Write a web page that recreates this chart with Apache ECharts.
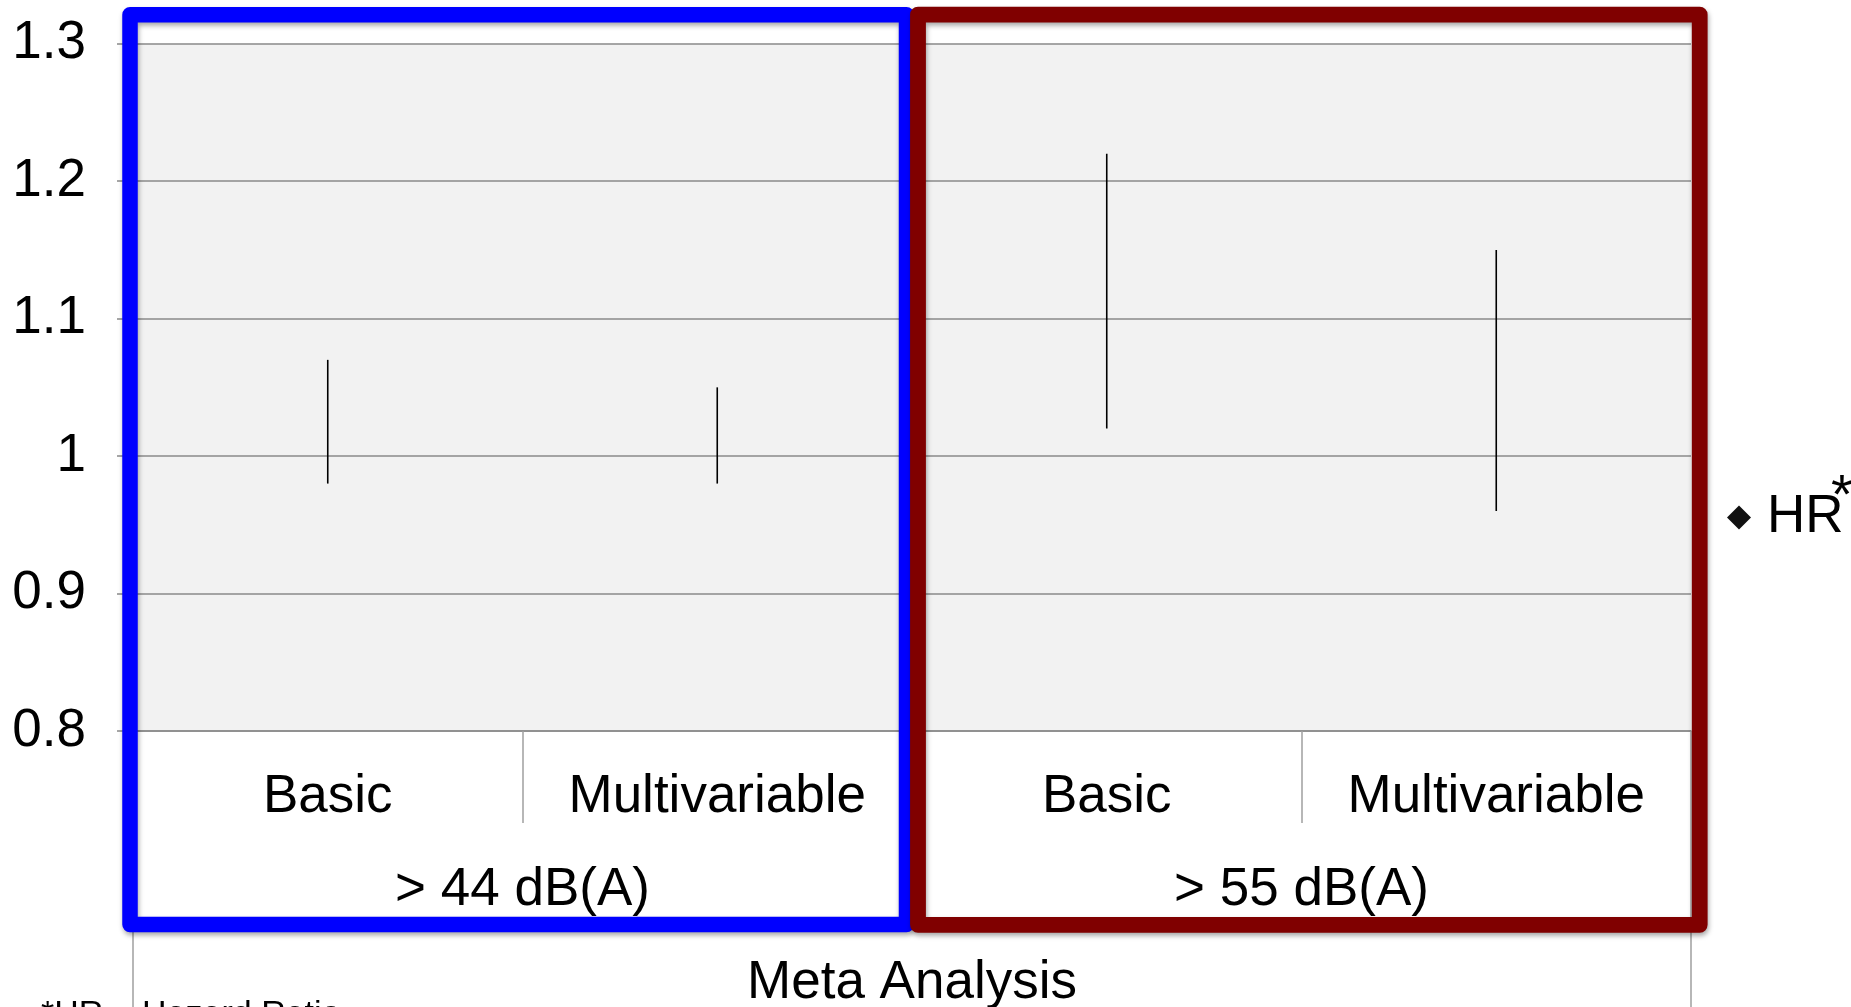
<!DOCTYPE html>
<html>
<head>
<meta charset="utf-8">
<script src="https://cdn.jsdelivr.net/npm/echarts@6/dist/echarts.min.js"></script>
<style>
html,body{margin:0;padding:0;background:#fff;}
#chart{width:1851px;height:1007px;}
</style>
</head>
<body>
<div id="chart"></div>
<script>
// ---- data ----
const categories = ['Basic', 'Multivariable', 'Basic', 'Multivariable'];
const groupLabels = ['> 44 dB(A)', '> 55 dB(A)'];
const topLabels = ['Meta Analysis'];
const ciLow = [0.98, 0.98, 1.02, 0.96];
const ciHigh = [1.07, 1.05, 1.22, 1.15];
const hrValues = []; // HR point markers are not visible in the reference
const yMin = 0.8, yMax = 1.3, yStep = 0.1;
const footnote = '*HR = Hazard Ratio';

const FONT = '"Liberation Sans", Arial, Helvetica, sans-serif';
const gridColor = '#8a8a8a';

const chart = echarts.init(document.getElementById('chart'));
const ciData = categories.map((c, i) => [i, ciLow[i], ciHigh[i]]);

const option = {
  backgroundColor: '#ffffff',
  animation: false,
  textStyle: { fontFamily: FONT },
  grid: {
    left: 133, right: 160, top: 43.7, bottom: 276,
    containLabel: false, outerBoundsMode: 'none',
    show: true, backgroundColor: '#f2f2f2', borderWidth: 0
  },
  legend: {
    data: [{ name: 'HR*', icon: 'diamond', itemStyle: { color: '#111', opacity: 1 } }],
    orient: 'vertical',
    left: 1722, top: 482.5,
    itemWidth: 24, itemHeight: 24,
    formatter: function () { return 'HR'; },
    textStyle: {
      fontSize: 53, color: '#000', fontFamily: FONT, lineHeight: 60,
      padding: [0, 0, 0, 11]
    }
  },
  xAxis: [
    {
      type: 'category', data: categories, position: 'bottom',
      axisLine: { show: true, lineStyle: { color: gridColor, width: 1.5 } },
      axisTick: { show: true, interval: 0, length: 92, lineStyle: { color: '#a0a0a0', width: 1.5 } },
      axisLabel: { fontSize: 53, color: '#000', fontFamily: FONT, margin: 66.5, verticalAlign: 'middle', interval: 0 },
      splitLine: { show: false }
    },
    {
      type: 'category', data: groupLabels, position: 'bottom',
      axisLine: { show: false },
      axisTick: { show: true, interval: 0, length: 198, lineStyle: { color: '#a0a0a0', width: 1.5 } },
      axisLabel: { fontSize: 53, color: '#000', fontFamily: FONT, margin: 159.5, verticalAlign: 'middle', interval: 0 },
      splitLine: { show: false }
    },
    {
      type: 'category', data: topLabels, position: 'bottom',
      axisLine: { show: false },
      axisTick: { show: true, interval: 0, length: 290, lineStyle: { color: '#a0a0a0', width: 1.5 } },
      axisLabel: { fontSize: 53, color: '#000', fontFamily: FONT, margin: 252.5, verticalAlign: 'middle', interval: 0 },
      splitLine: { show: false }
    }
  ],
  yAxis: {
    type: 'value', min: yMin, max: yMax, interval: yStep,
    axisLine: { show: false },
    axisTick: { show: true, length: 16, lineStyle: { color: gridColor, width: 1.5 } },
    axisLabel: { fontSize: 53, color: '#000', fontFamily: FONT, margin: 47, padding: [11, 0, 0, 0] },
    splitLine: { show: true, lineStyle: { color: gridColor, width: 1.5 } }
  },
  series: [
    {
      name: 'CI', type: 'custom', xAxisIndex: 0,
      data: ciData,
      encode: { x: 0, y: [1, 2] },
      renderItem: function (params, api) {
        const x = api.value(0);
        const p1 = api.coord([x, api.value(1)]);
        const p2 = api.coord([x, api.value(2)]);
        return {
          type: 'line',
          shape: { x1: p1[0], y1: p1[1], x2: p2[0], y2: p2[1] },
          style: { stroke: '#000', lineWidth: 1.6 }
        };
      },
      z: 5
    },
    {
      name: 'HR*', type: 'scatter', xAxisIndex: 0,
      symbol: 'diamond', symbolSize: 20,
      itemStyle: { color: '#111', opacity: 1 },
      data: hrValues
    }
  ],
  graphic: [
    {
      type: 'rect', z: 100,
      shape: { x: 130, y: 14.7, width: 776.5, height: 909.8, r: 0 },
      style: {
        fill: 'none', stroke: '#0000ff', lineWidth: 15.5, lineJoin: 'round',
        shadowBlur: 5, shadowOffsetX: 1, shadowOffsetY: 3, shadowColor: 'rgba(0,0,0,0.35)'
      }
    },
    {
      type: 'rect', z: 101,
      shape: { x: 918, y: 14.6, width: 781.7, height: 910.2, r: 0 },
      style: {
        fill: 'none', stroke: '#800000', lineWidth: 15.8, lineJoin: 'round',
        shadowBlur: 5, shadowOffsetX: 1, shadowOffsetY: 3, shadowColor: 'rgba(0,0,0,0.35)'
      }
    },
    {
      type: 'text', z: 110, left: 1831, top: 470,
      style: { text: '*', fontSize: 56, fill: '#000', fontFamily: FONT }
    },
    {
      type: 'text', z: 50, left: 41, top: 998,
      style: { text: footnote, fontSize: 34, fill: '#000', fontFamily: FONT }
    }
  ]
};

chart.setOption(option);
</script>
</body>
</html>
